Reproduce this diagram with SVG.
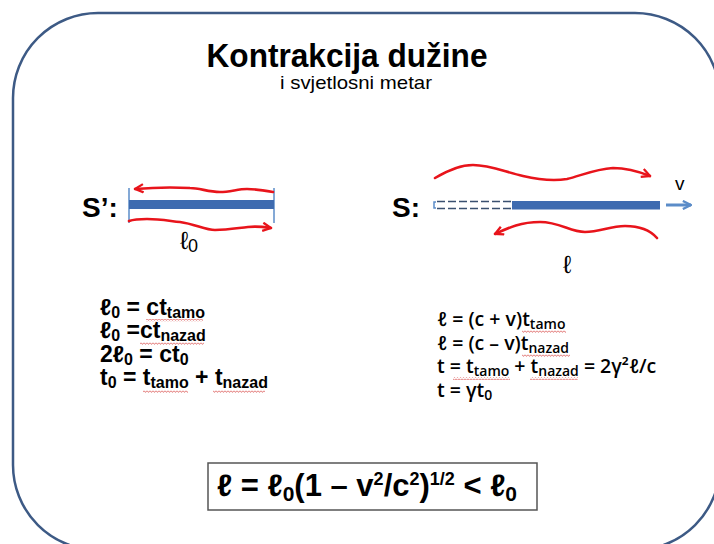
<svg xmlns="http://www.w3.org/2000/svg" width="714" height="544" viewBox="0 0 714 544">
<defs>
<style>
.t{font-family:"Liberation Sans",Arial,sans-serif;fill:#000}
.b{font-weight:bold}
.r{font-family:"Open Sans","Liberation Sans",sans-serif;font-weight:600;fill:#000}
.wave{fill:none;stroke:#e8141b;stroke-width:2.6;stroke-linecap:round}
.sq{fill:url(#zig)}
</style>
<pattern id="zig" x="0" y="0" width="3" height="3" patternUnits="userSpaceOnUse">
<path d="M0,0.6 L1.5,2.4 L3,0.6" fill="none" stroke="#d9504f" stroke-width="0.8"/>
</pattern>
<marker id="ra" viewBox="0 0 10 10" refX="9" refY="5" markerWidth="4" markerHeight="4" orient="auto" markerUnits="strokeWidth">
<path d="M1,1 L9,5 L1,9" fill="none" stroke="#e8141b" stroke-width="2.2" stroke-linejoin="miter"/>
</marker>
<marker id="ba" viewBox="0 0 10 10" refX="9" refY="5" markerWidth="3.4" markerHeight="3.4" orient="auto" markerUnits="strokeWidth">
<path d="M1,1 L9,5 L1,9" fill="none" stroke="#5b8cc8" stroke-width="2.2"/>
</marker>
</defs>
<rect x="0" y="0" width="714" height="544" fill="#ffffff"/>
<rect x="13" y="13" width="707" height="537" rx="85" ry="85" fill="none" stroke="#3d5a85" stroke-width="2.5"/>

<g id="title">
<text class="t b" x="347" y="67" font-size="34" text-anchor="middle" textLength="281" lengthAdjust="spacingAndGlyphs">Kontrakcija dužine</text>
<text class="t" x="356" y="89" font-size="19" text-anchor="middle" textLength="152" lengthAdjust="spacingAndGlyphs">i svjetlosni metar</text>
</g>

<g id="frame-S-prime">
<text class="t b" x="82" y="217" font-size="28">S’:</text>
<line x1="129" y1="188" x2="129" y2="223" stroke="#5b8cc8" stroke-width="1.5"/>
<line x1="274" y1="188" x2="274" y2="223" stroke="#5b8cc8" stroke-width="1.5"/>
<rect x="129" y="200" width="145" height="9" fill="#3e6bb0"/>
<text class="t" x="180" y="249" font-size="25">ℓ<tspan font-size="18" dy="3">0</tspan></text>
</g>

<g id="frame-S">
<text class="t b" x="392" y="217" font-size="28">S:</text>
<path d="M436,202 L434,202 L434,208 L436,208" fill="none" stroke="#5b8cc8" stroke-width="1.5"/>
<line x1="437" y1="201.5" x2="512" y2="201.5" stroke="#3a5070" stroke-width="1.6" stroke-dasharray="8,3"/>
<line x1="437" y1="208.5" x2="512" y2="208.5" stroke="#3a5070" stroke-width="1.6" stroke-dasharray="8,3"/>
<rect x="512" y="201" width="148" height="8.5" fill="#3e6bb0"/>
<text class="t" x="675" y="190" font-size="19">v</text>
<text class="t" x="563" y="273" font-size="25">ℓ</text>
</g>

<g id="connectors">
<path class="wave" marker-end="url(#ra)" d="M273,192 C262,190 255,189 247,189 C238,189 230,192 220,192 C208,192 200,188 190,188 C172,187 158,187 135,189"/>
<path class="wave" marker-end="url(#ra)" d="M129,221 C135,219 140,219 147,219 C160,219 170,221 180,222 C195,224 205,230 215,230 C228,230 238,228 248,227 C258,226 264,227 271,228"/>
<path class="wave" marker-end="url(#ra)" d="M435,178 C445,172 458,165 473,165 C490,165 505,172 523,176 C540,180 555,181 567,179 C580,176 595,169 613,168 C628,168 640,172 650,176"/>
<path class="wave" marker-end="url(#ra)" d="M657,238 C650,230 640,226 625,226 C610,226 600,232 585,232 C570,232 560,222 540,222 C520,222 508,228 495,234"/>
<line x1="666" y1="205" x2="691" y2="205" stroke="#5b8cc8" stroke-width="3" marker-end="url(#ba)"/>
</g>

<g id="eq-left">
<text class="t b" x="100" y="315" font-size="23">ℓ<tspan font-size="16" dy="3">0</tspan><tspan dy="-3"> = ct</tspan><tspan font-size="16" dy="3">tamo</tspan></text>
<text class="t b" x="100" y="338" font-size="23">ℓ<tspan font-size="16" dy="3">0</tspan><tspan dy="-3"> =ct</tspan><tspan font-size="16" dy="3">nazad</tspan></text>
<text class="t b" x="100" y="362" font-size="23">2ℓ<tspan font-size="16" dy="3">0</tspan><tspan dy="-3"> = ct</tspan><tspan font-size="16" dy="3">0</tspan></text>
<text class="t b" x="100" y="385" font-size="23">t<tspan font-size="16" dy="3">0</tspan><tspan dy="-3"> = t</tspan><tspan font-size="16" dy="3">tamo</tspan><tspan dy="-3">  + t</tspan><tspan font-size="16" dy="3">nazad</tspan></text>
<rect class="sq" x="146" y="319" width="57" height="3"/>
<rect class="sq" x="140" y="342" width="64" height="3"/>
<rect class="sq" x="143" y="390" width="45" height="3"/>
<rect class="sq" x="213" y="390" width="52" height="3"/>
</g>

<g id="eq-right">
<text class="r" x="437" y="326" font-size="19.5">ℓ = (c + v)t<tspan font-size="14" dy="3">tamo</tspan></text>
<text class="r" x="437" y="350" font-size="19.5">ℓ = (c – v)t<tspan font-size="14" dy="3">nazad</tspan></text>
<text class="r" x="437" y="373" font-size="19.5">t = t<tspan font-size="14" dy="3">tamo</tspan><tspan dy="-3"> + t</tspan><tspan font-size="14" dy="3">nazad</tspan><tspan dy="-3"> = 2γ²ℓ/c</tspan></text>
<text class="r" x="437" y="397" font-size="19.5">t = γt<tspan font-size="14" dy="3">0</tspan></text>
<rect class="sq" x="522" y="330" width="44" height="3"/>
<rect class="sq" x="522" y="354" width="48" height="3"/>
<rect class="sq" x="453" y="377" width="57" height="3"/>
<rect class="sq" x="530" y="377" width="48" height="3"/>
</g>

<g id="result">
<rect x="208" y="463" width="329" height="47" fill="#ffffff" stroke="#555555" stroke-width="1.5"/>
<text class="t b" x="217" y="496" font-size="31">ℓ = ℓ<tspan font-size="21" dy="5">0</tspan><tspan dy="-5">(1 – v</tspan><tspan font-size="18" dy="-11">2</tspan><tspan dy="11">/c</tspan><tspan font-size="18" dy="-11">2</tspan><tspan dy="11">)</tspan><tspan font-size="18" dy="-11">1/2</tspan><tspan dy="11"> &lt; ℓ</tspan><tspan font-size="21" dy="5">0</tspan></text>
</g>
</svg>
